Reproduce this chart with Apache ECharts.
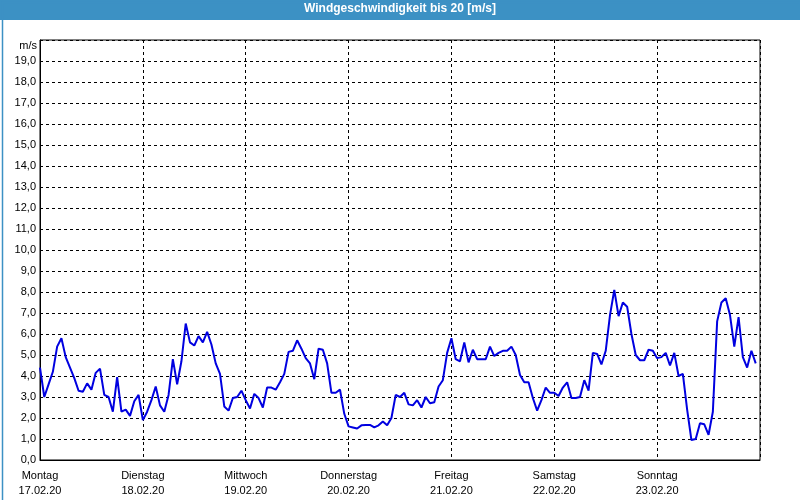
<!DOCTYPE html>
<html>
<head>
<meta charset="utf-8">
<script src="https://cdn.jsdelivr.net/npm/echarts@6/dist/echarts.min.js"></script>
<style>html,body{margin:0;padding:0;background:#fff;}#c{width:800px;height:500px;}</style>
</head>
<body>
<div id="c"></div>
<script>
const dayNames = ['Montag','Dienstag','Mittwoch','Donnerstag','Freitag','Samstag','Sonntag'];
const dayDates = ['17.02.20','18.02.20','19.02.20','20.02.20','21.02.20','22.02.20','23.02.20'];
const yTickMax = 20;
const unitLabel = 'm/s';
const titleText = 'Windgeschwindigkeit bis 20 [m/s]';
// hourly wind speed, m/s
const windSpeed = [
  4.4,3.0,3.6,4.2,5.4,5.8,4.9,4.4,3.9,3.3,3.25,3.65,3.35,4.15,4.35,3.1,3.0,2.3,3.95,2.3,2.4,2.1,2.8,3.1,
  1.9,2.3,2.85,3.5,2.6,2.3,3.1,4.8,3.6,4.7,6.5,5.6,5.45,5.9,5.6,6.1,5.5,4.6,4.1,2.55,2.35,2.95,3.0,3.3,
  2.85,2.45,3.15,2.95,2.5,3.45,3.45,3.35,3.7,4.1,5.15,5.2,5.7,5.3,4.85,4.6,3.85,5.3,5.25,4.6,3.2,3.2,3.35,2.2,
  1.6,1.55,1.5,1.65,1.67,1.67,1.55,1.65,1.83,1.65,2.0,3.1,3.0,3.2,2.65,2.6,2.85,2.5,3.0,2.7,2.75,3.5,3.8,5.1,
  5.8,4.8,4.7,5.6,4.65,5.25,4.8,4.8,4.8,5.4,4.95,5.1,5.2,5.2,5.4,5.0,4.05,3.7,3.7,2.95,2.35,2.85,3.45,3.2,
  3.2,3.05,3.45,3.7,2.95,2.95,3.0,3.8,3.3,5.1,5.05,4.55,5.2,6.9,8.1,6.85,7.5,7.3,6.0,5.0,4.75,4.75,5.25,5.2,
  4.85,4.9,5.1,4.5,5.1,4.0,4.1,2.4,0.95,1.0,1.75,1.7,1.2,2.3,6.6,7.5,7.7,6.9,5.4,6.8,4.9,4.4,5.2,4.6
];
const hoursPerDay = 24;

const seriesData = windSpeed.map((v, i) => [i, v]);
const chart = echarts.init(document.getElementById('c'), null, {renderer: 'canvas'});
const font = 'Liberation Sans';
chart.setOption({
  animation: false,
  backgroundColor: '#ffffff',
  textStyle: {fontFamily: font},
  grid: {left: 40, right: 40, top: 40, bottom: 40, show: true, borderColor: '#000', borderWidth: 1, backgroundColor: 'transparent'},
  graphic: [
    {type: 'rect', left: 0, top: 0, shape: {width: 800, height: 20}, style: {fill: '#3c91c4'}, z: 0},
    {type: 'rect', left: 0, top: 0, shape: {x: 0.5, y: 0.5, width: 799, height: 499}, style: {fill: 'none', stroke: '#3c91c4', lineWidth: 1.5}, z: 0},
    {type: 'text', left: 'center', top: 3, style: {text: titleText, fill: '#ffffff', font: 'bold 12px "Liberation Sans"'}},
    {type: 'text', right: 763, top: 40, style: {text: unitLabel, fill: '#000', font: '11px "Liberation Sans"', textAlign: 'right'}}
  ],
  xAxis: {
    type: 'value', min: 0, max: hoursPerDay * dayNames.length, interval: hoursPerDay,
    axisLine: {show: true, lineStyle: {color: '#000', width: 1}},
    axisTick: {show: false},
    splitLine: {show: true, lineStyle: {color: '#000', type: [3, 3], width: 1}},
    axisLabel: {
      color: '#000', fontSize: 11, fontFamily: font, margin: 8, lineHeight: 15,
      showMaxLabel: false,
      formatter: function (v) {
        const i = Math.round(v / hoursPerDay);
        return i < dayNames.length ? dayNames[i] + '\n' + dayDates[i] : '';
      }
    }
  },
  yAxis: {
    type: 'value', min: 0, max: yTickMax, interval: 1,
    axisLine: {show: true, lineStyle: {color: '#000', width: 1}},
    axisTick: {show: false},
    splitLine: {show: true, lineStyle: {color: '#000', type: [3, 3], width: 1}},
    axisLabel: {
      color: '#000', fontSize: 11, fontFamily: font, margin: 4,
      formatter: function (v) { return v === yTickMax ? '' : v.toFixed(1).replace('.', ','); }
    }
  },
  series: [{
    type: 'line', data: seriesData, showSymbol: false, symbol: 'none',
    lineStyle: {color: '#0000e0', width: 2}, z: 5
  }]
});
</script>
</body>
</html>
